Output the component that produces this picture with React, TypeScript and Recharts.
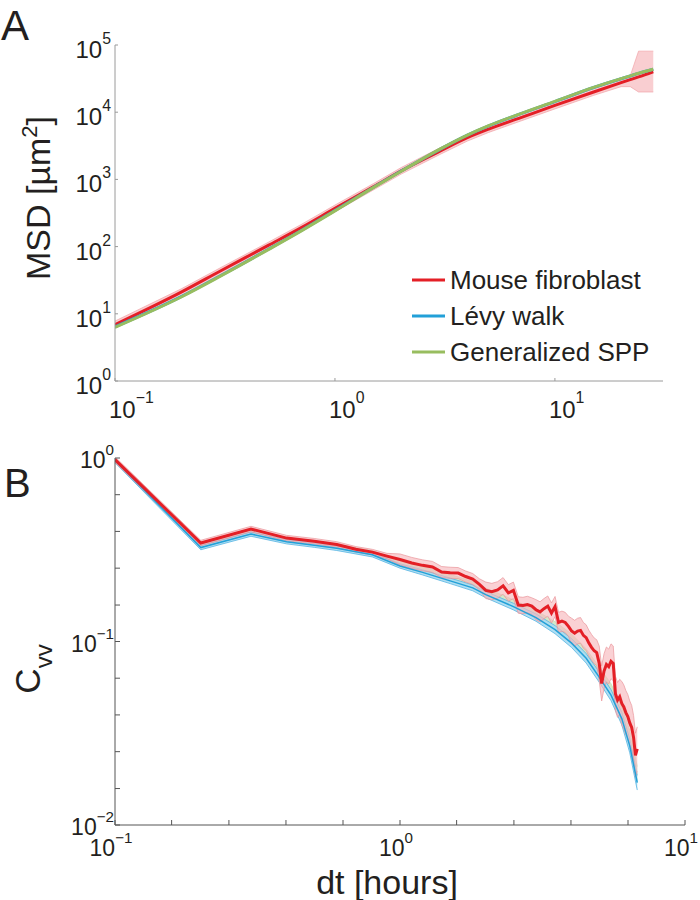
import React from 'react';
import { ComposedChart, Line, Area, XAxis, YAxis, Legend } from 'recharts';

const FONT = '"Liberation Sans", Arial, Helvetica, sans-serif';
const TEXT = '#231f20';
const RED = '#e41f26';
const BLUE = '#22a0d8';
const GREEN = '#98bd5f';

// ---------- Panel A : MSD ----------
const msdDt = [0.1, 0.2, 0.3, 0.5, 0.7, 1, 1.5, 2, 3, 4, 5, 7, 10, 15, 20, 22, 24, 28];
const msdFibroblast = [6.9, 21, 43, 105, 190, 370, 780, 1340, 2630, 4170, 5600, 8300, 12600, 20000, 27500, 30500, 33500, 40000];
const msdFibroLow = [6.1, 18.7, 38.5, 94, 170, 330, 700, 1200, 2350, 3720, 5000, 7400, 11200, 17800, 24000, 24000, 20000, 20000];
const msdFibroHigh = [7.8, 23.5, 48, 117, 212, 415, 870, 1500, 2950, 4680, 6280, 9300, 14100, 22400, 31500, 34700, 81000, 81000];
const msdLevy = [6.4, 18, 36.5, 92, 172, 345, 765, 1330, 2800, 4550, 6250, 9500, 14400, 23300, 31500, 34600, 37900, 43500];
const msdSpp = [6.3, 17.8, 36, 91, 170, 340, 760, 1320, 2820, 4570, 6300, 9550, 14500, 23400, 31600, 34700, 38000, 43600];
const msdXTicks = [0.1, 1, 10];
const msdYTicks = [1, 10, 100, 1000, 10000, 100000];

// ---------- Panel B : velocity autocorrelation ----------
const cvvDt = [
  0.1, 0.2, 0.3, 0.4, 0.5, 0.6, 0.7, 0.8, 0.9, 1.0,
  1.1, 1.2, 1.3, 1.4, 1.5, 1.6, 1.7, 1.8, 1.9, 2.0,
  2.1, 2.2, 2.3, 2.4, 2.5, 2.6, 2.7, 2.8, 2.9, 3.0,
  3.1, 3.2, 3.3, 3.4, 3.5, 3.6, 3.7, 3.8, 3.9, 4.0,
  4.1, 4.2, 4.3, 4.4, 4.5, 4.6, 4.7, 4.8, 4.9, 5.0,
  5.1, 5.2, 5.3, 5.4, 5.5, 5.6, 5.7, 5.8, 5.9, 6.0,
  6.1, 6.2, 6.3, 6.4, 6.5, 6.6, 6.7, 6.8,
];
const cvvFibroblast = [
  0.98, 0.344, 0.41, 0.366, 0.352, 0.338, 0.318, 0.307, 0.292, 0.28,
  0.268, 0.26, 0.255, 0.239, 0.237, 0.236, 0.226, 0.219, 0.205, 0.19,
  0.187, 0.191, 0.201, 0.184, 0.19, 0.158, 0.157, 0.159, 0.156, 0.149,
  0.145, 0.151, 0.156, 0.143, 0.155, 0.127, 0.129, 0.127, 0.121, 0.114,
  0.111, 0.114, 0.115, 0.108, 0.105, 0.098, 0.093, 0.089, 0.087, 0.076,
  0.059, 0.069, 0.075, 0.073, 0.078, 0.076, 0.052, 0.048, 0.05, 0.046,
  0.044, 0.041, 0.039, 0.036, 0.034, 0.03, 0.024, 0.026,
];
// half-width of the shaded error band, in decades
const cvvFibroErr = [
  0.015, 0.015, 0.015, 0.015, 0.015, 0.015, 0.015, 0.015, 0.015, 0.03,
  0.03, 0.03, 0.03, 0.03, 0.03, 0.03, 0.03, 0.03, 0.03, 0.045,
  0.045, 0.045, 0.045, 0.045, 0.045, 0.045, 0.045, 0.045, 0.045, 0.055,
  0.055, 0.055, 0.055, 0.055, 0.055, 0.055, 0.055, 0.055, 0.055, 0.07,
  0.07, 0.07, 0.07, 0.07, 0.07, 0.07, 0.07, 0.07, 0.07, 0.095,
  0.095, 0.095, 0.095, 0.095, 0.095, 0.095, 0.095, 0.095, 0.095, 0.12,
  0.12, 0.12, 0.12, 0.12, 0.12, 0.12, 0.12, 0.12,
];
const modelDt = [0.1, 0.2, 0.3, 0.4, 0.5, 0.6, 0.8, 1, 1.2, 1.5, 1.8, 2, 2.5, 3, 3.5, 4, 4.5, 5, 5.5, 6, 6.4, 6.8];
const cvvLevy = [0.97, 0.325, 0.385, 0.35, 0.335, 0.322, 0.297, 0.258, 0.238, 0.214, 0.196, 0.18, 0.155, 0.135, 0.116, 0.098, 0.081, 0.064, 0.051, 0.038, 0.027, 0.017];
const cvvLevyErr = [0.012, 0.012, 0.012, 0.012, 0.012, 0.012, 0.012, 0.012, 0.014, 0.015, 0.016, 0.017, 0.018, 0.02, 0.022, 0.024, 0.026, 0.028, 0.03, 0.034, 0.038, 0.04];
const cvvSpp = [0.975, 0.335, 0.395, 0.358, 0.343, 0.33, 0.305, 0.268, 0.248, 0.224, 0.205, 0.188, 0.162, 0.141, 0.122, 0.104, 0.086, 0.068, 0.055, 0.041, 0.03, 0.019];
const cvvSppErr = [0.012, 0.012, 0.012, 0.012, 0.012, 0.012, 0.012, 0.012, 0.014, 0.015, 0.016, 0.017, 0.018, 0.02, 0.022, 0.024, 0.026, 0.028, 0.03, 0.034, 0.038, 0.04];
const cvvXTicks = [0.1, 0.158, 0.251, 0.398, 0.631, 1, 1.58, 2.51, 3.98, 6.31, 10];
const cvvYTicks = [0.01, 0.0158, 0.0251, 0.0398, 0.0631, 0.1, 0.158, 0.251, 0.398, 0.631, 1];

const legendNames = ['Mouse fibroblast', 'L\u00e9vy walk', 'Generalized SPP'];
const legendColors = [RED, BLUE, GREEN];

// ---------- tables built for the library ----------
const msdData = msdDt.map((dt, i) => ({
  dt,
  fib: msdFibroblast[i],
  fibBand: [msdFibroLow[i], msdFibroHigh[i]],
  levy: msdLevy[i],
  spp: msdSpp[i],
}));

const band = (v: number, e: number) => [v / Math.pow(10, e), v * Math.pow(10, e)];

const cvvData = cvvDt.map((dt, i) => ({
  dt,
  fib: cvvFibroblast[i],
  fibBand: band(cvvFibroblast[i], cvvFibroErr[i]),
}));

const modelData = modelDt.map((dt, i) => ({
  dt,
  levy: cvvLevy[i],
  levyBand: band(cvvLevy[i], cvvLevyErr[i]),
  sppBand: band(cvvSpp[i], cvvSppErr[i]),
}));

function PowTick(props: any) {
  const { x, y, payload, axis, inward, color, fs, ox, oy, anc, raise } = props;
  const v = payload.value;
  const lg = Math.log10(v);
  const e = Math.round(lg);
  const major = Math.abs(lg - e) < 1e-3;
  return (
    <g>
      {axis === 'y' ? (
        <line x1={x} y1={y} x2={x + inward} y2={y} stroke={color} strokeWidth={1} />
      ) : (
        <line x1={x} y1={y} x2={x} y2={y - inward} stroke={color} strokeWidth={1} />
      )}
      {major && (
        <text x={x + ox} y={y + oy} textAnchor={anc} fontFamily={FONT} fontSize={fs} fill={TEXT}>
          10
          <tspan dy={-raise} fontSize={fs * 0.66}>
            {e < 0 ? '\u2212' + Math.abs(e) : String(e)}
          </tspan>
        </text>
      )}
    </g>
  );
}

function LegendBox() {
  return (
    <div style={{ fontFamily: FONT, fontSize: 26, color: TEXT, lineHeight: '36px' }}>
      {legendNames.map((n, i) => (
        <div key={n} style={{ display: 'flex', alignItems: 'center', height: 36, whiteSpace: 'nowrap' }}>
          <svg width={36} height={36} style={{ display: 'block' }}>
            <line x1={2} y1={18} x2={35} y2={18} stroke={legendColors[i]} strokeWidth={3} />
          </svg>
          <span style={{ marginLeft: 4 }}>{n}</span>
        </div>
      ))}
    </div>
  );
}

const AX_A = '#9a9a9a';
const AX_B = '#555555';

export default function App() {
  return (
    <div style={{ position: 'absolute', left: 0, top: 0, width: 700, height: 900, background: '#fff' }}>
      <div style={{ position: 'absolute', left: 0, top: 0 }}>
        <ComposedChart width={700} height={440} data={msdData} margin={{ top: 45, right: 37, left: 55, bottom: 19 }}>
          <XAxis
            dataKey="dt"
            type="number"
            scale="log"
            domain={[0.1, 31]}
            allowDataOverflow
            ticks={msdXTicks}
            interval={0}
            height={40}
            stroke={AX_A}
            tickSize={0}
            tickMargin={0}
            tickLine={false}
            tick={(p: any) => (
              <PowTick {...p} axis="x" inward={3} color={AX_A} fs={24} ox={-6} oy={37} anc="start" raise={15} />
            )}
          />
          <YAxis
            type="number"
            scale="log"
            domain={[1, 100000]}
            allowDataOverflow
            ticks={msdYTicks}
            interval={0}
            width={60}
            stroke={AX_A}
            tickSize={0}
            tickMargin={0}
            tickLine={false}
            tick={(p: any) => (
              <PowTick {...p} axis="y" inward={3} color={AX_A} fs={24} ox={-4} oy={13} anc="end" raise={14} />
            )}
          />
          <Area
            dataKey="fibBand"
            type="linear"
            fill="#f7b9bd"
            fillOpacity={0.7}
            stroke="#f0a3a8"
            strokeWidth={0.7}
            isAnimationActive={false}
            legendType="none"
            dot={false}
            activeDot={false}
          />
          <Line dataKey="fib" type="monotone" stroke={RED} strokeWidth={3} dot={false} activeDot={false} isAnimationActive={false} />
          <Line dataKey="levy" type="monotone" stroke={BLUE} strokeWidth={3} dot={false} activeDot={false} isAnimationActive={false} />
          <Line dataKey="spp" type="monotone" stroke={GREEN} strokeWidth={3} dot={false} activeDot={false} isAnimationActive={false} />
          <Legend
            layout="vertical"
            align="center"
            verticalAlign="middle"
            content={() => <LegendBox />}
            wrapperStyle={{ left: 410, top: 262, width: 280, height: 110 }}
          />
        </ComposedChart>
      </div>

      <div style={{ position: 'absolute', left: 0, top: 440 }}>
        <ComposedChart width={700} height={460} data={cvvData} margin={{ top: 18, right: 15, left: 55, bottom: 35 }}>
          <XAxis
            dataKey="dt"
            type="number"
            scale="log"
            domain={[0.1, 10]}
            allowDataOverflow
            ticks={cvvXTicks}
            interval={0}
            height={40}
            stroke={AX_B}
            tickSize={0}
            tickMargin={0}
            tickLine={false}
            tick={(p: any) => (
              <PowTick {...p} axis="x" inward={5} color={AX_B} fs={23} ox={-4} oy={31} anc="middle" raise={13} />
            )}
          />
          <YAxis
            type="number"
            scale="log"
            domain={[0.01, 1]}
            allowDataOverflow
            ticks={cvvYTicks}
            interval={0}
            width={60}
            stroke={AX_B}
            tickSize={0}
            tickMargin={0}
            tickLine={false}
            tick={(p: any) => (
              <PowTick {...p} axis="y" inward={5} color={AX_B} fs={23} ox={-1} oy={10} anc="end" raise={13} />
            )}
          />
          <Area
            data={modelData}
            dataKey="sppBand"
            type="linear"
            fill="#cfe6c3"
            fillOpacity={0.9}
            stroke="#b9d8a8"
            strokeWidth={0.6}
            isAnimationActive={false}
            legendType="none"
            dot={false}
            activeDot={false}
          />
          <Area
            data={modelData}
            dataKey="levyBand"
            type="linear"
            fill="#a9dcf2"
            fillOpacity={0.9}
            stroke="#55b4e2"
            strokeWidth={0.8}
            isAnimationActive={false}
            legendType="none"
            dot={false}
            activeDot={false}
          />
          <Line
            data={modelData}
            dataKey="levy"
            type="linear"
            stroke={BLUE}
            strokeWidth={1.5}
            dot={false}
            activeDot={false}
            isAnimationActive={false}
          />
          <Area
            dataKey="fibBand"
            type="linear"
            fill="#f7b9bd"
            fillOpacity={0.65}
            stroke="#e9959b"
            strokeWidth={0.7}
            isAnimationActive={false}
            legendType="none"
            dot={false}
            activeDot={false}
          />
          <Line dataKey="fib" type="linear" stroke={RED} strokeWidth={3} dot={false} activeDot={false} isAnimationActive={false} />
        </ComposedChart>
      </div>

      <svg
        width={700}
        height={900}
        style={{ position: 'absolute', left: 0, top: 0, pointerEvents: 'none' }}
        fontFamily={FONT}
        fill={TEXT}
      >
        <text x={1} y={40} fontSize={42}>A</text>
        <text x={4} y={497} fontSize={40}>B</text>
        <text transform="rotate(-90)" x={-198} y={50} fontSize={34} textAnchor="middle">
          MSD [µm
          <tspan dy={-13} fontSize={22}>2</tspan>
          <tspan dy={13}>]</tspan>
        </text>
        <text transform="rotate(-90)" x={-669} y={40} fontSize={35} textAnchor="middle">
          C
          <tspan dy={12} fontSize={24}>vv</tspan>
        </text>
        <text x={387} y={894} fontSize={34} textAnchor="middle">dt [hours]</text>
      </svg>
    </div>
  );
}
